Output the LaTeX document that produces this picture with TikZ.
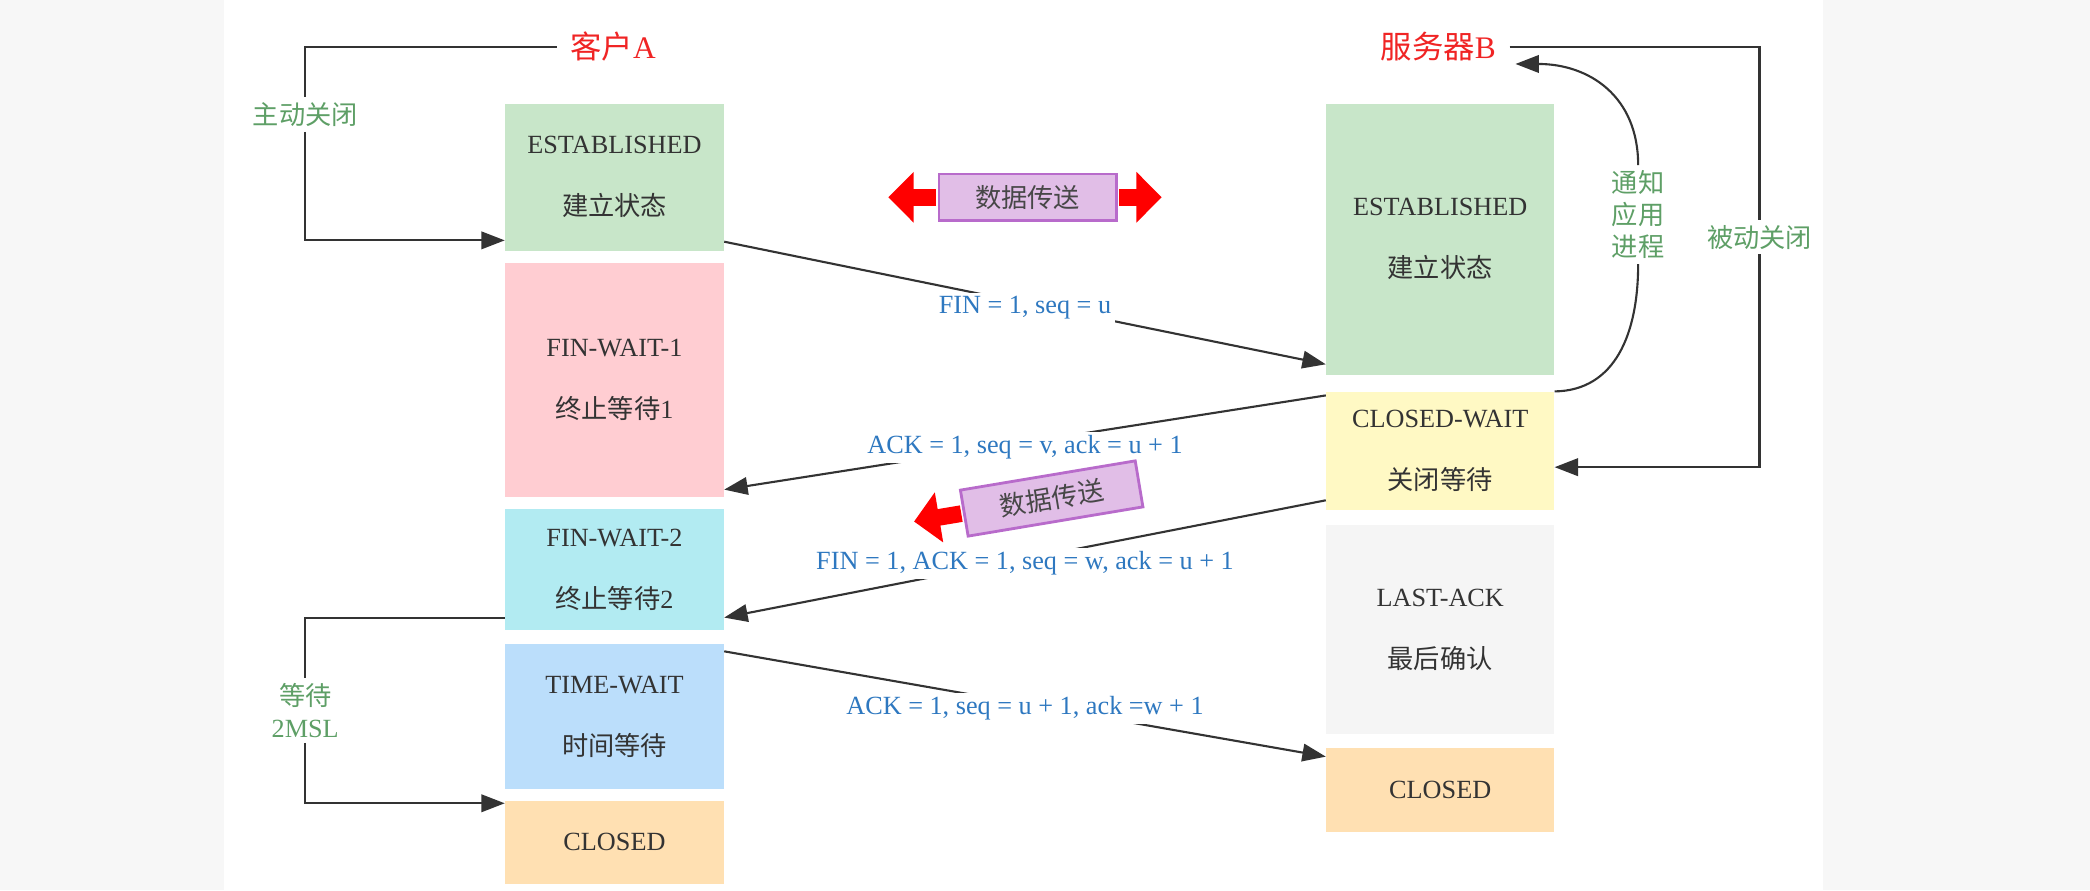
\documentclass[tikz,border=0pt]{standalone}
\usepackage{fontspec}
\setmainfont{Liberation Serif}
\newfontfamily\cjk{Noto Sans CJK SC}
\usetikzlibrary{arrows.meta,calc}
\definecolor{pagegray}{HTML}{F7F7F7}
\definecolor{estgreen}{HTML}{C8E6C9}
\definecolor{finpink}{HTML}{FFCDD2}
\definecolor{fincyan}{HTML}{B2EBF2}
\definecolor{timeblue}{HTML}{BBDEFB}
\definecolor{closeorange}{HTML}{FFE0B2}
\definecolor{waityellow}{HTML}{FFF9C4}
\definecolor{lastgray}{HTML}{F5F5F5}
\definecolor{msgblue}{HTML}{2E78C0}
\definecolor{notegreen}{HTML}{5E9F66}
\definecolor{headred}{HTML}{F02424}
\definecolor{xferfill}{HTML}{E1BEE7}
\definecolor{xferline}{HTML}{B86BCB}
\begin{document}
\begin{tikzpicture}[x=0.02cm,y=-0.02cm,
    stbox/.style={minimum width=3.28cm, inner sep=0pt, text=black!80, align=center,
      font=\fontsize{11.2}{26.5}\selectfont},
    stboxB/.style={stbox, minimum width=3.42cm},
    heading/.style={text=headred, inner sep=0.2cm, font=\fontsize{13.4}{16}\selectfont},
    note/.style={text=notegreen, inner sep=2pt, align=center, font=\fontsize{11.2}{13.8}\selectfont},
    msg/.style={fill=white, text=msgblue, inner sep=1.5pt, yshift=-2pt, font=\fontsize{11.2}{13.5}\selectfont},
    xfer/.style={fill=xferfill, draw=xferline, line width=1.2pt, minimum width=2.66cm,
      minimum height=0.7cm, inner sep=0pt, text=black!72, font=\fontsize{11.2}{13.5}\selectfont},
    redarrow/.style={draw=red, line width=0.25cm, shorten <=0.7pt, -{Triangle[length=0.38cm,width=0.74cm]}},
    wire/.style={draw=black!80, line width=0.9pt},
    conn/.style={wire, -{Triangle[length=10pt,width=7.5pt]}}]
  \fill[pagegray] (0,0) rectangle (1568,668);
  \fill[white] (168,0) rectangle (1368,668);
  \useasboundingbox (0,0) rectangle (1568,668);

  \node[heading] (cliA) at (460,35) {{\cjk 客户}A};
  \node[heading] (srvB) at (1079,35) {{\cjk 服务器}B};
  \coordinate (tipB) at (1137,48);

  \node[stbox, fill=estgreen, minimum height=2.2cm] (estA) at (461,133) {ESTABLISHED\\{\cjk 建立状态}};
  \node[stbox, fill=finpink, minimum height=3.52cm] (fw1) at (461,285) {FIN-WAIT-1\\{\cjk 终止等待}1};
  \node[stbox, fill=fincyan, minimum height=1.82cm] (fw2) at (461,427.5) {FIN-WAIT-2\\{\cjk 终止等待}2};
  \node[stbox, fill=timeblue, minimum height=2.18cm] (tw) at (461,537.5) {TIME-WAIT\\{\cjk 时间等待}};
  \node[stbox, fill=closeorange, minimum height=1.24cm] (closedA) at (461,632) {CLOSED};

  \node[stboxB, fill=estgreen, minimum height=4.06cm] (estB) at (1080.5,179.5) {ESTABLISHED\\{\cjk 建立状态}};
  \node[stboxB, fill=waityellow, minimum height=1.78cm] (cw) at (1080.5,338.5) {CLOSED-WAIT\\{\cjk 关闭等待}};
  \node[stboxB, fill=lastgray, minimum height=3.14cm] (la) at (1080.5,472.5) {LAST-ACK\\{\cjk 最后确认}};
  \node[stboxB, fill=closeorange, minimum height=1.26cm] (closedB) at (1080.5,592.5) {CLOSED};

  \node[note] (actClose) at (229,86) {{\cjk 主动关闭}};
  \node[note] (wait2) at (229,533) {{\cjk 等待}\\2MSL};
  \node[note] (passClose) at (1320,178) {{\cjk 被动关闭}};
  \node[note] (notify) at (1229,161) {{\cjk 通知}\\{\cjk 应用}\\{\cjk 进程}};

  \draw[wire] (cliA.west) -| (actClose.north);
  \draw[conn] (actClose.south) |- ($(estA.south west)+(0,-8)$);
  \draw[wire] ($(fw2.south west)+(0,-10)$) -| (wait2.north);
  \draw[conn] (wait2.south) |- ($(closedA.north west)+(0,2)$);
  \draw[wire] (srvB.east) -| (passClose.north);
  \draw[conn] (passClose.south) |- ($(cw.east)+(0,12)$);
  \draw[wire] (cw.north east) .. controls (1212,293) and (1229,250) .. (notify.south);
  \draw[conn] (notify.north) .. controls (1229,72) and (1192,48) .. (tipB);

  \draw[conn] ($(estA.south east)+(0,-7)$) -- node[msg] {FIN = 1, seq = u} ($(estB.south west)+(0,-8)$);
  \draw[conn] ($(cw.north west)+(0,3)$) -- node[msg] {ACK = 1, seq = v, ack = u + 1} ($(fw1.south east)+(0,-6)$);
  \draw[conn] ($(cw.south west)+(0,-8)$) -- node[msg] {FIN = 1, ACK = 1, seq = w, ack = u + 1} ($(fw2.south east)+(0,-10)$);
  \draw[conn] ($(tw.north east)+(0,6)$) -- node[msg] {ACK = 1, seq = u + 1, ack =w + 1} ($(closedB.north west)+(0,7)$);

  \node[xfer] (dt1) at (771,148) {{\cjk 数据传送}};
  \draw[redarrow] (dt1.west) -- ++(-37,0);
  \draw[redarrow] (dt1.east) -- ++(33,0);
  \node[xfer, rotate=9.5] (dt2) at (789,374) {{\cjk 数据传送}};
  \draw[redarrow] (dt2.west) -- ($(dt2.center)!1.55!(dt2.west)$);
\end{tikzpicture}
\end{document}
